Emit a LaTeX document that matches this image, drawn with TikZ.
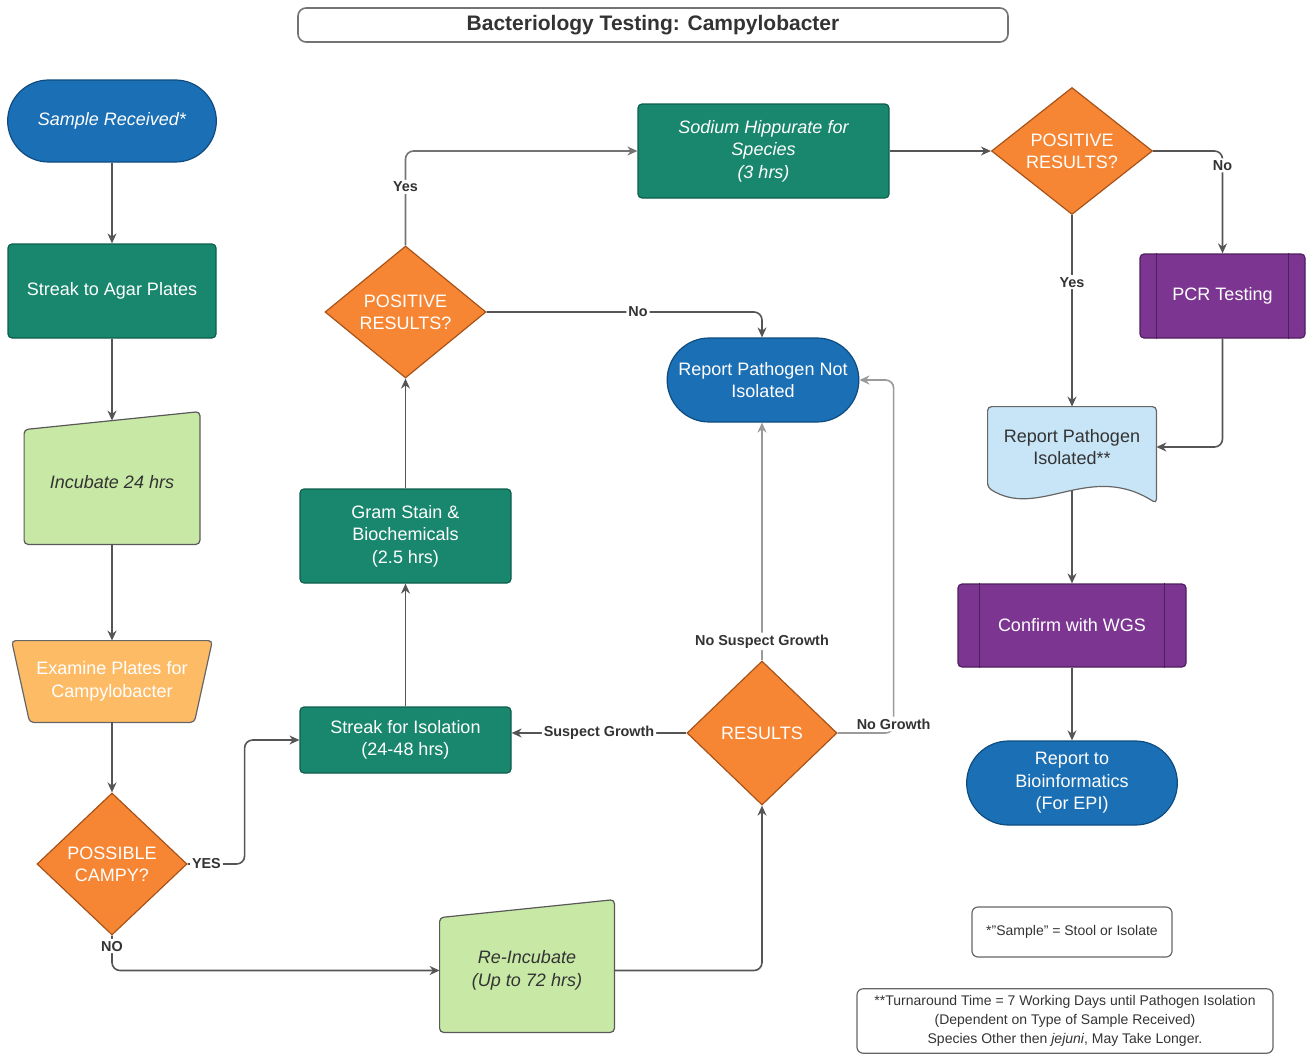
\documentclass[tikz,border=0pt]{standalone}
\usepackage{fontspec}
\setmainfont{Liberation Sans}
\usetikzlibrary{shapes.geometric,shapes.misc,arrows.meta,calc,backgrounds}
\definecolor{cblue}{HTML}{1B6FB5}
\definecolor{cblueline}{HTML}{0E4C80}
\definecolor{cteal}{HTML}{19876E}
\definecolor{ctealline}{HTML}{0E5E4B}
\definecolor{corange}{HTML}{F68633}
\definecolor{corangeline}{HTML}{A8531A}
\definecolor{clorange}{HTML}{FDBB66}
\definecolor{clgreen}{HTML}{C8E9A6}
\definecolor{cpurple}{HTML}{7C3691}
\definecolor{cpurpleline}{HTML}{4E1E5E}
\definecolor{clblue}{HTML}{C7E5F6}
\definecolor{cline}{HTML}{555555}
\definecolor{clight}{HTML}{9A9A9A}
\definecolor{ctxt}{HTML}{333333}
\tikzset{
  boxtext/.style={font=\fontsize{9}{11.2}\selectfont, align=center},
  itext/.style={font=\fontsize{9}{11.2}\selectfont\itshape},
  procbox/.style={boxtext, rectangle, rounded corners=2pt, fill=cteal, draw=ctealline, text=white, line width=0.6pt},
  termbox/.style={boxtext, rounded rectangle, fill=cblue, draw=cblueline, text=white, line width=0.6pt},
  decision/.style={boxtext, diamond, inner sep=0pt, fill=corange, draw=corangeline, text=white, line width=0.6pt},
  predef/.style={boxtext, rectangle, rounded corners=2pt, fill=cpurple, draw=cpurpleline, text=white, line width=0.6pt},
  hidden/.style={boxtext, rectangle, inner sep=0pt},
  notebox/.style={rectangle, rounded corners=3pt, draw=black!60, line width=0.6pt, font=\fontsize{7}{9.5}\selectfont, align=center, text=ctxt},
  conn/.style={draw=cline, line width=0.8pt, rounded corners=4pt, -{Stealth[length=5pt,width=4.5pt]}},
  lbl/.style={fill=white, inner sep=1pt, font=\bfseries\fontsize{7.2}{8}\selectfont, text=ctxt},
}
\begin{document}
\begin{tikzpicture}[x=0.5pt,y=-0.5pt]
\useasboundingbox (0,0) rectangle (1307,1055);
\node[draw=black!55, rounded corners=4pt, line width=0.8pt, minimum width=355pt, minimum height=17pt, font=\bfseries\fontsize{10.5}{12}\selectfont, text=ctxt] (title) at (653,25) {Bacteriology Testing: Campylobacter};
\node[termbox, itext, minimum width=111pt, minimum height=41pt] (sample) at (112,121) {Sample Received*};
\node[procbox, minimum width=104pt, minimum height=47pt] (agar) at (112,291) {Streak to Agar Plates};
\node[hidden, itext, minimum width=87.5pt, minimum height=61.5pt, text=ctxt] (incubate) at (112,482.5) {Incubate 24 hrs};
\node[hidden, minimum width=100pt, minimum height=40.5pt, text=white] (examine) at (112,681.5) {Examine Plates for\\Campylobacter};
\node[decision, minimum width=75pt, minimum height=71pt] (possible) at (112,864) {POSSIBLE\\CAMPY?};
\node[hidden, itext, minimum width=87pt, minimum height=61.5pt, text=ctxt] (reinc) at (527,970.5) {Re-Incubate\\(Up to 72 hrs)};
\node[decision, minimum width=75pt, minimum height=72pt] (results) at (762,733) {RESULTS};
\node[procbox, minimum width=105.5pt, minimum height=33pt] (isolation) at (405.5,740) {Streak for Isolation\\(24-48 hrs)};
\node[procbox, minimum width=105.5pt, minimum height=47pt] (gram) at (405.5,536) {Gram Stain \&\\Biochemicals\\(2.5 hrs)};
\node[decision, minimum width=80.5pt, minimum height=66pt] (posA) at (405.5,312) {POSITIVE\\RESULTS?};
\node[termbox, minimum width=102.5pt, minimum height=42pt] (notiso) at (763,380) {Report Pathogen Not\\Isolated};
\node[procbox, itext, minimum width=125.5pt, minimum height=47pt] (sodium) at (763.5,151) {Sodium Hippurate for\\Species\\(3 hrs)};
\node[decision, minimum width=80.5pt, minimum height=63.5pt] (posB) at (1072,151) {POSITIVE\\RESULTS?};
\node[predef, minimum width=82.5pt, minimum height=42pt] (pcr) at (1222.5,296) {PCR Testing};
\node[hidden, minimum width=84pt, minimum height=40pt, text=ctxt] (isolated) at (1072,447) {Report Pathogen\\Isolated**};
\node[predef, minimum width=114pt, minimum height=41.5pt] (wgs) at (1072,625.5) {Confirm with WGS};
\node[termbox, minimum width=112pt, minimum height=42pt] (bioinf) at (1072,783) {Report to\\Bioinformatics\\(For EPI)};
\node[notebox, minimum width=100pt, minimum height=25pt] (samplenote) at (1072,932) {*"Sample" = Stool or Isolate};
\node[notebox, minimum width=208pt, minimum height=31pt] (timenote) at (1065,1021) {**Turnaround Time = 7 Working Days until Pathogen Isolation\\(Dependent on Type of Sample Received)\\Species Other then \textit{jejuni}, May Take Longer.};
\begin{scope}[on background layer]
\draw[fill=clgreen, draw=black!65, line width=0.6pt, rounded corners=2pt] (incubate.south west) -- ($(incubate.north west)+(0,9)$) -- ($(incubate.north east)+(0,-9)$) -- (incubate.south east) -- cycle;
\draw[fill=clgreen, draw=black!65, line width=0.6pt, rounded corners=2pt] (reinc.south west) -- ($(reinc.north west)+(0,9)$) -- ($(reinc.north east)+(0,-9)$) -- (reinc.south east) -- cycle;
\draw[fill=clorange, draw=black!60, line width=0.6pt, rounded corners=2pt] (examine.north west) -- (examine.north east) -- ($(examine.south east)+(-18,0)$) -- ($(examine.south west)+(18,0)$) -- cycle;
\draw[fill=clblue, draw=black!60, line width=0.6pt, rounded corners=2pt] (isolated.south west) -- (isolated.north west) -- (isolated.north east) -- ($(isolated.south east)+(0,16)$) .. controls ($(isolated.south east)+(-67,-27)$) and ($(isolated.south west)+(51,33)$) .. (isolated.south west) -- cycle;
\end{scope}
\draw[cpurpleline, line width=0.6pt] ($(pcr.north west)+(17,0)$) -- ($(pcr.south west)+(17,0)$) ($(pcr.north east)+(-17,0)$) -- ($(pcr.south east)+(-17,0)$);
\draw[cpurpleline, line width=0.6pt] ($(wgs.north west)+(22,0)$) -- ($(wgs.south west)+(22,0)$) ($(wgs.north east)+(-22,0)$) -- ($(wgs.south east)+(-22,0)$);
\draw[conn] (sample.south) -- (agar.north);
\draw[conn] (agar.south) -- (incubate.north);
\draw[conn] (incubate.south) -- (examine.north);
\draw[conn] (examine.south) -- (possible.north);
\draw[conn] (possible.east) -- node[lbl,pos=0.33]{YES} ++(57,0) |- (isolation.west);
\draw[conn] (possible.south) |- node[lbl,pos=0.15]{NO} (reinc.west);
\draw[conn] (reinc.east) -| (results.south);
\draw[conn] (results.west) -- node[lbl]{Suspect Growth} (results.west -| isolation.east);
\draw[conn, draw=clight] (results.east) -- ++(56,0) node[lbl, yshift=4.5pt]{No Growth} |- (notiso.east);
\draw[conn, draw=clight] (results.north) -- node[lbl,pos=0.08]{No Suspect Growth} (results.north |- notiso.south);
\draw[conn] (isolation.north) -- (gram.south);
\draw[conn] (gram.north) -- (posA.south);
\draw[conn, draw=black!55] (posA.north) |- node[lbl,pos=0.31]{Yes} (sodium.west);
\draw[conn] (posA.east) -| node[lbl,pos=0.275]{No} (results.north |- notiso.north);
\draw[conn] (sodium.east) -- (posB.west);
\draw[conn] (posB.east) -| node[lbl,pos=0.57]{No} (pcr.north);
\draw[conn] (posB.south) -- node[lbl,pos=0.35]{Yes} (isolated.north);
\draw[conn] (pcr.south) |- (isolated.east);
\draw[conn] ($(isolated.south)+(0,4)$) -- (wgs.north);
\draw[conn] (wgs.south) -- (bioinf.north);
\end{tikzpicture}
\end{document}
